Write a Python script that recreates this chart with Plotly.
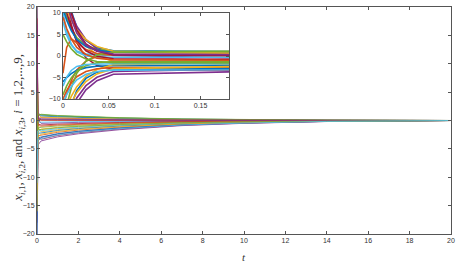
import plotly.graph_objects as go

# time samples shared by all states
t = [0, 0.004, 0.009, 0.015, 0.025, 0.037, 0.055, 0.2, 1, 2, 4, 7, 10, 14, 20]

# first state of each agent i = 1..9
x_i1 = [
    [20, 15.1, 10.5, 6.7, 3.6, 1.95, 1.2, 1.0, 0.8, 0.65, 0.45, 0.25, 0.14, 0.05, 0],
    [-12, -8.75, -5.75, -3.25, -1.19, -0.13, 0.36, 0.5, 0.4, 0.33, 0.23, 0.13, 0.07, 0.03, 0],
    [15, 11.9, 8.7, 5.65, 2.42, 0.21, -1.32, -2.0, -1.6, -1.3, -0.9, -0.5, -0.28, -0.1, 0],
    [-18, -15.3, -12.45, -9.75, -6.9, -4.95, -3.6, -3.0, -2.4, -1.95, -1.35, -0.75, -0.42, -0.15, 0],
    [12, 9.14, 6.5, 4.3, 2.49, 1.55, 1.12, 1.0, 0.8, 0.65, 0.45, 0.25, 0.14, 0.05, 0],
    [8, 4.88, 2.54, 1.14, 0.43, 0.28, 0.2, 0.2, 0.16, 0.13, 0.09, 0.05, 0.03, 0.01, 0],
    [18, 12.46, 7.35, 3.09, -0.42, -2.23, -3.07, -3.3, -2.64, -2.15, -1.49, -0.83, -0.46, -0.17, 0],
    [-6, -5.01, -4.1, -3.34, -2.71, -2.39, -2.24, -2.2, -1.76, -1.43, -0.99, -0.55, -0.31, -0.11, 0],
    [-4, 2.0, 4.0, 3.0, 1.5, 0.6, 0.15, 0.05, 0.04, 0.03, 0.02, 0.01, 0.01, 0, 0],
]

# second state
x_i2 = [
    [-14, -11.75, -9.38, -7.13, -4.75, -3.13, -2.0, -1.5, -1.2, -0.98, -0.68, -0.38, -0.21, -0.08, 0],
    [16, 13.03, 9.9, 6.93, 3.79, 1.65, 0.16, -0.5, -0.4, -0.33, -0.23, -0.13, -0.07, -0.03, 0],
    [-9, -6.97, -5.1, -3.54, -2.25, -1.59, -1.29, -1.2, -0.96, -0.78, -0.54, -0.3, -0.17, -0.06, 0],
    [10, 5.88, 2.79, 0.94, 0.01, -0.2, -0.3, -0.3, -0.24, -0.2, -0.14, -0.08, -0.04, -0.02, 0],
    [14, 10.15, 6.6, 3.64, 1.2, -0.06, -0.64, -0.8, -0.64, -0.52, -0.36, -0.2, -0.11, -0.04, 0],
    [11, 8.35, 5.9, 3.86, 2.18, 1.31, 0.91, 0.8, 0.64, 0.52, 0.36, 0.2, 0.11, 0.04, 0],
    [-10, -8.08, -6.3, -4.82, -3.6, -2.97, -2.68, -2.6, -2.08, -1.69, -1.17, -0.65, -0.36, -0.13, 0],
    [13, 10.77, 8.41, 6.18, 3.82, 2.21, 1.1, 0.6, 0.48, 0.39, 0.27, 0.15, 0.08, 0.03, 0],
    [-20, -17.05, -13.93, -10.98, -7.86, -5.73, -4.26, -3.6, -2.88, -2.34, -1.62, -0.9, -0.5, -0.18, 0],
]

# third state
x_i3 = [
    [-16, -11.55, -7.45, -4.03, -1.21, 0.24, 0.91, 1.1, 0.88, 0.72, 0.5, 0.28, 0.15, 0.06, 0],
    [-7, -4.92, -3.36, -2.42, -1.96, -1.85, -1.8, -1.8, -1.44, -1.17, -0.81, -0.45, -0.25, -0.09, 0],
    [20, 14.83, 10.05, 6.07, 2.79, 1.1, 0.32, 0.1, 0.08, 0.07, 0.05, 0.03, 0.01, 0.01, 0],
    [-20, -15.55, -11.45, -8.03, -5.21, -3.76, -3.09, -2.9, -2.32, -1.89, -1.31, -0.73, -0.41, -0.15, 0],
    [9, 6.4, 4.0, 2.0, 0.35, -0.5, -0.89, -1.0, -0.8, -0.65, -0.45, -0.25, -0.14, -0.05, 0],
    [-16, -13.55, -10.97, -8.52, -5.94, -4.17, -2.94, -2.4, -1.92, -1.56, -1.08, -0.6, -0.34, -0.12, 0],
    [17, 12.66, 8.65, 5.31, 2.55, 1.14, 0.48, 0.3, 0.24, 0.2, 0.14, 0.08, 0.04, 0.02, 0],
    [5, 3.28, 1.7, 0.38, -0.71, -1.27, -1.53, -1.6, -1.28, -1.04, -0.72, -0.4, -0.22, -0.08, 0],
    [-11, -8.97, -7.1, -5.54, -4.25, -3.59, -3.29, -3.2, -2.56, -2.08, -1.44, -0.8, -0.45, -0.16, 0],
]

main_xticks = [0, 2, 4, 6, 8, 10, 12, 14, 16, 18, 20]
main_yticks = [-20, -15, -10, -5, 0, 5, 10, 15, 20]
inset_xticks = [0, 0.05, 0.1, 0.15]
inset_yticks = [-10, -5, 0, 5, 10]

COLORS = ["#0072BD", "#D95319", "#EDB120", "#7E2F8E", "#77AC30", "#4DBEEE", "#A2142F"]
AXIS = "#555555"
TICKFONT = dict(family="Liberation Sans, Arial", size=7, color="#333333")
LABELFONT = dict(family="Liberation Serif", size=13, color="#333333")

fig = go.Figure()

curves = x_i1 + x_i2 + x_i3
for k, y in enumerate(curves):
    color = COLORS[k % len(COLORS)]
    # main axes
    fig.add_trace(go.Scatter(x=t, y=y, mode="lines", line=dict(color=color, width=0.8),
                             showlegend=False, xaxis="x", yaxis="y"))
    # zoomed inset
    fig.add_trace(go.Scatter(x=t, y=y, mode="lines", line=dict(color=color, width=1.6),
                             showlegend=False, xaxis="x2", yaxis="y2"))

common = dict(showline=True, linecolor=AXIS, linewidth=1, mirror="ticks",
              ticks="inside", ticklen=3, tickcolor=AXIS, showgrid=False,
              zeroline=False, tickfont=TICKFONT, automargin=False, tickmode="array")

L, R, T, B = 37, 7, 7, 29
W, H = 458, 263
pw, ph = W - L - R, H - T - B

fig.update_layout(
    width=W,
    height=H,
    margin=dict(l=L, r=R, t=T, b=B),
    plot_bgcolor="white",
    paper_bgcolor="white",
    xaxis=dict(range=[0, 20], tickvals=main_xticks, domain=[0, 1], anchor="y", **common),
    yaxis=dict(range=[-20, 20], tickvals=main_yticks, domain=[0, 1], anchor="x", **common),
    xaxis2=dict(range=[0, 0.181], tickvals=inset_xticks, ticktext=["0", "0.05", "0.1", "0.15"],
                anchor="y2", domain=[(63 - L) / pw, (229 - L) / pw], **common),
    yaxis2=dict(range=[-10, 10], tickvals=inset_yticks, anchor="x2",
                domain=[(H - B - 99) / ph, (H - B - 13) / ph], **common),
    annotations=[
        dict(text="<i>t</i>", xref="paper", yref="paper", x=0.5, y=-0.065,
             xanchor="center", yanchor="top", showarrow=False,
             font=dict(family="Liberation Serif", size=11, color="#333333")),
        dict(text="<i>x</i><sub><i>i</i>,1</sub>, <i>x</i><sub><i>i</i>,2</sub>, and "
                  "<i>x</i><sub><i>i</i>,3</sub>, <i>i</i> = 1,2,...,9,",
             xref="paper", yref="paper", x=-0.045, y=0.47, textangle=-90,
             xanchor="center", yanchor="middle", showarrow=False, font=LABELFONT),
    ],
)

# the page body has a default margin; drop it so the figure sits at the window corner
fig.write_html("out.html", config={"displayModeBar": False},
               post_script="document.body.style.margin = '0';")
